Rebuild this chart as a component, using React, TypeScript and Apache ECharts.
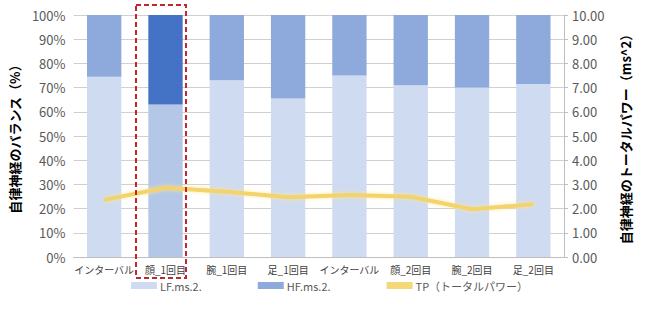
import React, { useEffect, useRef } from "react";
import * as echarts from "echarts";

const categories = ["インターバル", "顔_1回目", "腕_1回目", "足_1回目", "インターバル", "顔_2回目", "腕_2回目", "足_2回目"];
const lfValues = [74.5, 63, 73, 65.5, 75, 71, 70, 71.5];
const hfValues = [25.5, 37, 27, 34.5, 25, 29, 30, 28.5];
const tpValues = [2.36, 2.86, 2.7, 2.47, 2.56, 2.49, 1.97, 2.18];
const leftTicks = ["0%", "10%", "20%", "30%", "40%", "50%", "60%", "70%", "80%", "90%", "100%"];
const highlightIndex = 1;

const FONT = "'Noto Sans CJK JP', 'Noto Sans', sans-serif";

export default function App() {
  const ref = useRef<HTMLDivElement>(null);
  useEffect(() => {
    if (!ref.current) return;
    const chart = echarts.init(ref.current, null, { renderer: "svg" });
    const lfData = lfValues.map((v, i) =>
      i === highlightIndex ? { value: v, itemStyle: { color: "#B4C7E7" } } : v
    );
    const hfData = hfValues.map((v, i) =>
      i === highlightIndex ? { value: v, itemStyle: { color: "#4472C4" } } : v
    );
    chart.setOption({
      animation: false,
      textStyle: { fontFamily: FONT },
      grid: { left: 69, right: 86, top: 15, bottom: 57, containLabel: false },
      legend: {
        bottom: 18,
        left: 126,
        itemGap: 56,
        itemWidth: 26,
        itemHeight: 7,
        textStyle: { color: "#595959", fontSize: 11, fontFamily: FONT, padding: [0, 0, 0, -2] },
        data: [
          { name: "LF.ms.2.", icon: "rect" },
          { name: "HF.ms.2.", icon: "rect" },
          { name: "TP（トータルパワー）", icon: "rect", itemStyle: { color: "#F5D878" } },
        ],
      },
      xAxis: {
        type: "category",
        data: categories,
        axisLine: { lineStyle: { color: "#BFBFBF" } },
        axisTick: { show: false },
        axisLabel: { color: "#404040", fontSize: 10, margin: 7, interval: 0 },
      },
      yAxis: [
        {
          type: "value",
          min: 0,
          max: 100,
          interval: 10,
          name: "自律神経のバランス（%）",
          nameLocation: "middle",
          nameRotate: 90,
          nameGap: 48,
          nameTextStyle: { color: "#000", fontSize: 13, fontWeight: "bold" },
          axisLabel: {
            color: "#595959",
            fontSize: 13,
            formatter: (v: number) => leftTicks[Math.round(v / 10)],
          },
          splitLine: { lineStyle: { color: "#D0D0D0" } },
          axisLine: { show: false },
          axisTick: { show: false },
        },
        {
          type: "value",
          min: 0,
          max: 10,
          interval: 1,
          position: "right",
          name: "自律神経のトータルパワー（ms^2）",
          nameLocation: "middle",
          nameRotate: 90,
          nameGap: 55,
          nameTextStyle: { color: "#000", fontSize: 13, fontWeight: "bold" },
          axisLabel: {
            color: "#595959",
            fontSize: 13,
            formatter: (v: number) => v.toFixed(2),
          },
          splitLine: { show: false },
          axisLine: { show: true, lineStyle: { color: "#BFBFBF" } },
          axisTick: { show: true, length: 4, lineStyle: { color: "#BFBFBF" } },
        },
      ],
      series: [
        {
          name: "LF.ms.2.",
          type: "bar",
          stack: "bal",
          barWidth: "56%",
          itemStyle: { color: "#CFDBF0" },
          data: lfData,
        },
        {
          name: "HF.ms.2.",
          type: "bar",
          stack: "bal",
          barWidth: "56%",
          itemStyle: { color: "#8EA9DB" },
          data: hfData,
        },
        {
          name: "TP（トータルパワー）",
          type: "line",
          yAxisIndex: 1,
          symbol: "none",
          smooth: false,
          lineStyle: {
            color: "#F2D36E",
            width: 4,
            shadowColor: "rgba(255,230,140,0.8)",
            shadowBlur: 4,
          },
          itemStyle: { color: "#F5D878" },
          data: tpValues,
        },
      ],
      graphic: [
        {
          type: "rect",
          shape: { x: 136, y: 5, width: 50, height: 273 },
          style: { fill: "none", stroke: "#C0282D", lineWidth: 2, lineDash: [5, 3] },
          z: 100,
        },
      ],
    });
    return () => chart.dispose();
  }, []);
  return <div ref={ref} style={{ width: 650, height: 314, position: "absolute", left: 0, top: 0 }} />;
}
